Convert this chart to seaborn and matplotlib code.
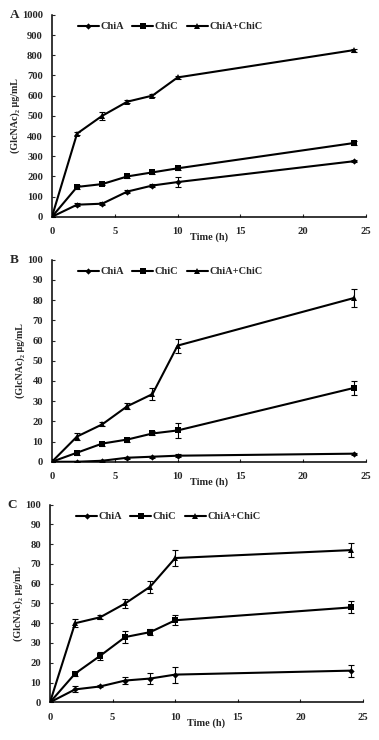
import numpy as np
import pandas as pd
import matplotlib
matplotlib.use('Agg')
import matplotlib.pyplot as plt
import seaborn as sns

# ==========================================
# Data
# ==========================================
time_h = [0, 2, 4, 6, 8, 10, 24]
series_names = ['ChiA', 'ChiC', 'ChiA+ChiC']

a_chia = [0, 60, 65, 125, 155, 172, 275]
a_chic = [0, 148, 162, 200, 220, 240, 365]
a_mix = [0, 412, 500, 570, 600, 690, 825]
a_chia_err = [0, 6, 6, 8, 6, 25, 6]
a_chic_err = [0, 8, 6, 8, 6, 6, 10]
a_mix_err = [0, 8, 20, 8, 6, 8, 8]

b_chia = [0, 0, 0.5, 2, 2.5, 3, 4]
b_chic = [0, 4.5, 9, 11, 14, 15.5, 36.5]
b_mix = [0, 12.5, 18.5, 27.5, 33.5, 57.5, 81]
b_chia_err = [0, 0.3, 0.5, 0.5, 0.5, 0.8, 0.5]
b_chic_err = [0, 1, 1, 1, 1, 3.5, 3.5]
b_mix_err = [0, 1.5, 1, 1.5, 3, 3.5, 4.5]

c_chia = [0, 6.5, 8, 11, 12, 14, 16]
c_chic = [0, 14.5, 23.5, 33, 35.5, 41.5, 48]
c_mix = [0, 40, 43, 50, 58.5, 73, 77]
c_chia_err = [0, 1.5, 0.5, 2, 3, 4, 3]
c_chic_err = [0, 1, 2, 3, 1.5, 2.5, 3]
c_mix_err = [0, 2, 1, 2.5, 3, 4, 3.5]

panels = [
    ('A', [a_chia, a_chic, a_mix], [a_chia_err, a_chic_err, a_mix_err], 1000, 100),
    ('B', [b_chia, b_chic, b_mix], [b_chia_err, b_chic_err, b_mix_err], 100, 10),
    ('C', [c_chia, c_chic, c_mix], [c_chia_err, c_chic_err, c_mix_err], 100, 10),
]

# ==========================================
# Style
# ==========================================
sns.set_theme(style='ticks')
plt.rcParams['font.family'] = ['Liberation Serif', 'DejaVu Serif']
plt.rcParams['font.weight'] = 'bold'
plt.rcParams['axes.labelweight'] = 'bold'

markers = {'ChiA': 'D', 'ChiC': 's', 'ChiA+ChiC': '^'}
msizes = {'ChiA': 3.2, 'ChiC': 4.6, 'ChiA+ChiC': 4.6}

fig = plt.figure(figsize=(3.79, 7.40), dpi=100)
boxes = [
    [0.137, 0.707, 0.829, 0.273],
    [0.137, 0.376, 0.829, 0.273],
    [0.132, 0.051, 0.826, 0.267],
]

for (letter, vals, errs, ymax, ystep), box in zip(panels, boxes):
    ax = fig.add_axes(box)
    df = pd.DataFrame({
        'Time': time_h * 3,
        'Value': vals[0] + vals[1] + vals[2],
        'Series': [n for n in series_names for _ in time_h],
    })
    sns.lineplot(data=df, x='Time', y='Value', hue='Series', style='Series',
                 markers=markers, dashes=False, palette=['black'] * 3,
                 linewidth=1.5, markeredgewidth=0, ax=ax, legend=False)
    for line, name in zip(ax.lines, series_names):
        line.set_markersize(msizes[name])
    for v, e in zip(vals, errs):
        ax.errorbar(time_h, v, yerr=e, fmt='none', ecolor='black',
                    elinewidth=0.8, capsize=2, capthick=0.8)

    handles = [plt.Line2D([], [], color='black', lw=1.5, marker=markers[n],
                          markersize=msizes[n], markeredgewidth=0) for n in series_names]
    ax.legend(handles, series_names, loc='upper left', bbox_to_anchor=(0.06, 1.0),
              ncol=3, frameon=False, fontsize=7.5, handlelength=2.0,
              handletextpad=0.15, columnspacing=0.8, borderaxespad=0.3)

    ax.set_xlim(0, 25)
    ax.set_ylim(0, ymax)
    ax.set_xticks(range(0, 26, 5))
    ax.set_yticks(np.arange(0, ymax + 1, ystep))
    ax.tick_params(labelsize=7.6, width=0.8, direction='in', length=2.5)
    ax.tick_params(axis='y', pad=6.5)
    ax.tick_params(axis='x', pad=7.5)
    for lab in ax.get_xticklabels() + ax.get_yticklabels():
        lab.set_fontweight('bold')
    sns.despine(ax=ax)
    for s in ['left', 'bottom']:
        ax.spines[s].set_linewidth(1.1)
        ax.spines[s].set_color('black')

    ax.set_xlabel('Time (h)', fontsize=7.4, labelpad=-2.5)
    ax.set_ylabel('(GlcNAc)\u2082 \u03bcg/mL', fontsize=7.2, labelpad=1.5)
    ax.text(-0.135, 1.0, letter, transform=ax.transAxes, fontsize=9.5,
            fontweight='bold', ha='left', va='center')

fig.savefig('out.png', dpi=100)
